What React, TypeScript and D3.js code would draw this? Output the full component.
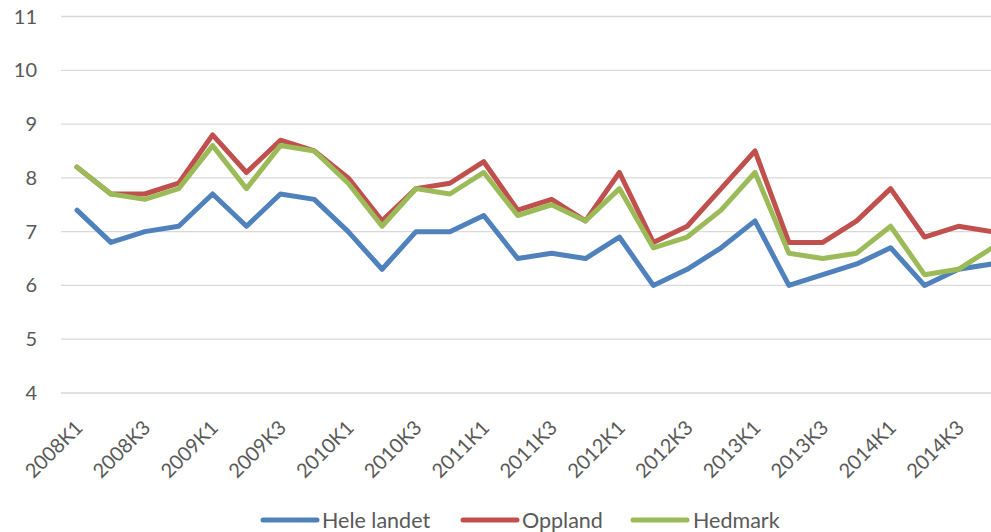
import React from "react";
import * as d3 from "d3";

const categories: string[] = [];
for (const yr of [2008, 2009, 2010, 2011, 2012, 2013, 2014]) for (const q of [1, 2, 3, 4]) categories.push(`${yr}K${q}`);

const heleLandet = [7.4, 6.8, 7.0, 7.1, 7.7, 7.1, 7.7, 7.6, 7.0, 6.3, 7.0, 7.0, 7.3, 6.5, 6.6, 6.5, 6.9, 6.0, 6.3, 6.7, 7.2, 6.0, 6.2, 6.4, 6.7, 6.0, 6.3, 6.4];
const oppland = [8.2, 7.7, 7.7, 7.9, 8.8, 8.1, 8.7, 8.5, 8.0, 7.2, 7.8, 7.9, 8.3, 7.4, 7.6, 7.2, 8.1, 6.8, 7.1, 7.8, 8.5, 6.8, 6.8, 7.2, 7.8, 6.9, 7.1, 7.0];
const hedmark = [8.2, 7.7, 7.6, 7.8, 8.6, 7.8, 8.6, 8.5, 7.9, 7.1, 7.8, 7.7, 8.1, 7.3, 7.5, 7.2, 7.8, 6.7, 6.9, 7.4, 8.1, 6.6, 6.5, 6.6, 7.1, 6.2, 6.3, 6.7];
const yTicks = [4, 5, 6, 7, 8, 9, 10, 11];

const seriesNames = ["Hele landet", "Oppland", "Hedmark"];
const seriesData = [heleLandet, oppland, hedmark];
const colors = ["#4F81BD", "#C0504D", "#9BBB59"];

const W = 991;
const H = 532;
const FONT = "Lato, 'Open Sans', sans-serif";

export default function App() {
  const x = d3.scalePoint<string>().domain(categories).range([77, 77 + 27 * 33.9]);
  const y = d3.scaleLinear().domain([4, 11]).range([393, 16.5]);
  const line = d3
    .line<number>()
    .x((_, i) => x(categories[i]) as number)
    .y((d) => y(d));

  const legendItems = [
    { x0: 263, tx: 322 },
    { x0: 463, tx: 522 },
    { x0: 633, tx: 693 },
  ];

  return (
    <svg width={W} height={H} style={{ position: "absolute", left: 0, top: 0, background: "#fff" }} fontFamily={FONT}>
      {yTicks.map((t) => (
        <g key={t}>
          <line x1={61} x2={W} y1={y(t)} y2={y(t)} stroke="#D9D9D9" strokeWidth={1.3} />
          <text x={37} y={y(t)} dy="0.35em" textAnchor="end" fontSize={20} fill="#595959">
            {t}
          </text>
        </g>
      ))}
      {categories.map((c, i) =>
        i % 2 === 0 ? (
          <text
            key={c}
            transform={`translate(${(x(c) as number) + 2},${424}) rotate(-45)`}
            textAnchor="end"
            dy="0.35em"
            fontSize={20}
            fill="#595959"
          >
            {c}
          </text>
        ) : null
      )}
      {seriesData.map((s, k) => (
        <path key={k} d={line(s) || ""} fill="none" stroke={colors[k]} strokeWidth={5} strokeLinejoin="round" strokeLinecap="round" />
      ))}
      {seriesNames.map((n, k) => (
        <g key={n}>
          <line x1={legendItems[k].x0} x2={legendItems[k].x0 + 54} y1={520} y2={520} stroke={colors[k]} strokeWidth={5} strokeLinecap="round" />
          <text x={legendItems[k].tx} y={520} dy="0.35em" fontSize={21.5} fill="#595959">
            {n}
          </text>
        </g>
      ))}
    </svg>
  );
}
